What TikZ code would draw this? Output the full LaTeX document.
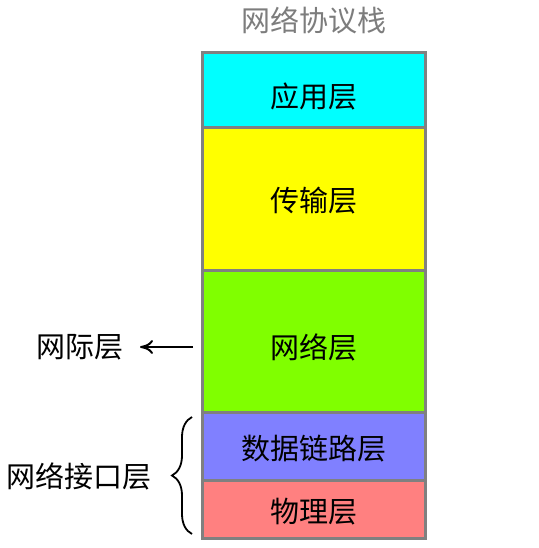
\documentclass[tikz,border=0pt]{standalone}
\usepackage{fontspec}
\setmainfont{Noto Sans CJK SC}
\usetikzlibrary{decorations.pathreplacing,arrows.meta}
\definecolor{cyanL}{RGB}{0,255,255}
\definecolor{yelL}{RGB}{255,255,0}
\definecolor{grnL}{RGB}{128,255,0}
\definecolor{bluL}{RGB}{128,128,255}
\definecolor{redL}{RGB}{255,128,128}
\definecolor{edgeG}{RGB}{128,128,128}
\definecolor{titleG}{RGB}{125,125,125}
\begin{document}
\begin{tikzpicture}[x=1pt,y=-1pt,
  txt/.style={font=\fontsize{29}{29}\selectfont},
  layer/.style={draw=edgeG, line width=3pt, minimum width=223pt, inner sep=0pt},
  lbl/.style={inner sep=0pt, txt},
  arr/.style={-{Computer Modern Rightarrow[length=13pt,width=14pt,line width=2pt]}, line width=2pt}]
\useasboundingbox (0,0) rectangle (538,548);
\fill[white] (0,0) rectangle (538,548);
\node[lbl, text=titleG] (title) at (313.5,20) {网络协议栈};
\node[layer, fill=cyanL, minimum height=75pt] (app) at (313.5,90.5) {};
\node[layer, fill=yelL, minimum height=142pt] (trans) at (313.5,199) {};
\node[layer, fill=grnL, minimum height=143pt] (net) at (313.5,341.5) {};
\node[layer, fill=bluL, minimum height=68pt] (link) at (313.5,446) {};
\node[layer, fill=redL, minimum height=58pt] (phys) at (313.5,509) {};
\node[lbl] (appT) at (313.5,96) {应用层};
\node[lbl] (transT) at (313.5,200.5) {传输层};
\node[lbl] (netT) at (313.5,347) {网络层};
\node[lbl] (linkT) at (313.5,448.5) {数据链路层};
\node[lbl] (physT) at (313.5,511.5) {物理层};
\node[lbl] (ip) at (80,347) {网际层};
\node[lbl] (nif) at (79,476) {网络接口层};
\coordinate (as) at (193,347);
\coordinate (ae) at (140,347);
\coordinate (bb) at (192,534);
\coordinate (bt) at (192,417);
\draw[arr] (as) -- (ae);
\draw[line width=1.8pt, decorate, decoration={brace, amplitude=20pt}] (bb) -- (bt);
\end{tikzpicture}
\end{document}
